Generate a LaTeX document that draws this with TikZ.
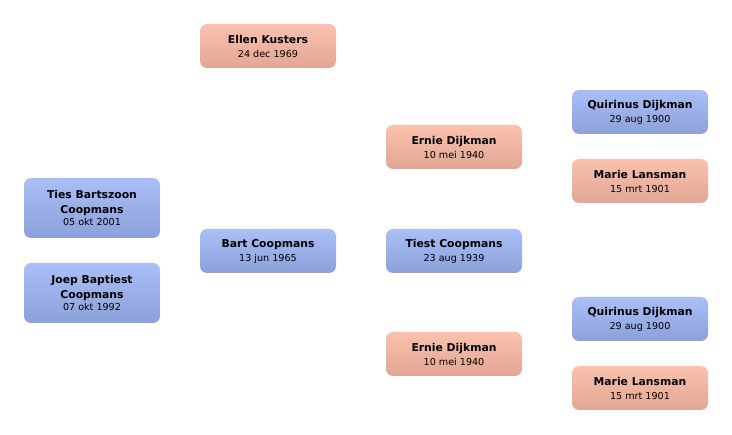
\documentclass[tikz,border=0pt]{standalone}
\usepackage{fontspec}
\setmainfont{DejaVu Sans}
\usepackage{tikz}

\definecolor{maletop}{RGB}{170,190,248}
\definecolor{malebot}{RGB}{140,160,218}
\definecolor{femtop}{RGB}{250,194,174}
\definecolor{fembot}{RGB}{226,166,148}

\tikzset{
  person/.style={rounded corners=7pt, minimum width=136pt, minimum height=44pt,
    inner sep=0pt, align=center, font=\fontsize{10.8}{14}\selectfont},
  male/.style={person, top color=maletop, bottom color=malebot},
  female/.style={person, top color=femtop, bottom color=fembot},
  tall/.style={minimum height=60pt}
}
\newcommand{\pname}[1]{{\bfseries #1}}
\newcommand{\pdate}[1]{{\fontsize{9.6}{14}\selectfont #1}}

\begin{document}
\begin{tikzpicture}[x=1pt,y=-1pt]
        \useasboundingbox (0,0) rectangle (732,435);
        % children
        \node[male,tall] (ties) at (92,208) {\pname{Ties Bartszoon}\\[1pt]\pname{Coopmans}\\[-1.5pt]\pdate{05 okt 2001}};
        \node[male,tall] (joep) at (92,293) {\pname{Joep Baptiest}\\[1pt]\pname{Coopmans}\\[-1.5pt]\pdate{07 okt 1992}};
        % parents
        \node[female] (ellen) at (268,46) {\pname{Ellen Kusters}\\\pdate{24 dec 1969}};
        \node[male] (bart) at (268,251) {\pname{Bart Coopmans}\\\pdate{13 jun 1965}};
        % grandparents
        \node[female] (ernieA) at (454,147) {\pname{Ernie Dijkman}\\\pdate{10 mei 1940}};
        \node[male] (tiest) at (454,251) {\pname{Tiest Coopmans}\\\pdate{23 aug 1939}};
        \node[female] (ernieB) at (454,354) {\pname{Ernie Dijkman}\\\pdate{10 mei 1940}};
        % great-grandparents
        \node[male] (quirinusA) at (640,112) {\pname{Quirinus Dijkman}\\\pdate{29 aug 1900}};
        \node[female] (marieA) at (640,181) {\pname{Marie Lansman}\\\pdate{15 mrt 1901}};
        \node[male] (quirinusB) at (640,319) {\pname{Quirinus Dijkman}\\\pdate{29 aug 1900}};
        \node[female] (marieB) at (640,388) {\pname{Marie Lansman}\\\pdate{15 mrt 1901}};
\end{tikzpicture}
\end{document}
